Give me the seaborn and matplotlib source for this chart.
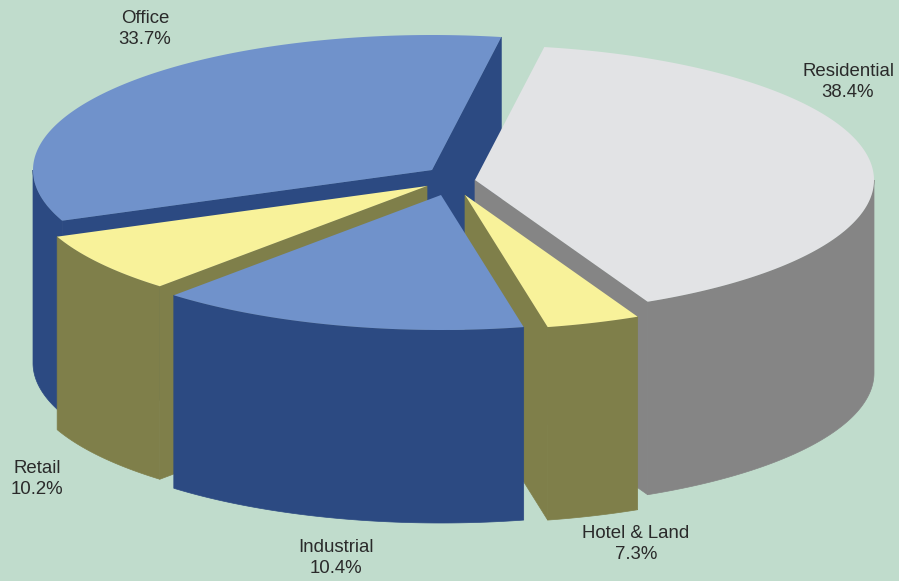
import numpy as np
import matplotlib
matplotlib.use("Agg")
import matplotlib.pyplot as plt
import seaborn as sns

# Data
categories = ["Residential", "Hotel & Land", "Industrial", "Retail", "Office"]
label_percent = [38.4, 7.3, 10.4, 10.2, 33.7]
# Share of the turn each slice visibly occupies in the drawing
shown_share = [40.1, 3.8, 15.0, 7.2, 33.9]

# Style / layout
top_colors = ["#E2E3E5", "#F8F29A", "#7092CB", "#F8F29A", "#7092CB"]
side_colors = ["#858585", "#7F7F4A", "#2C4A82", "#7F7F4A", "#2C4A82"]
apex_x = [475, 465, 441, 427, 432]
apex_y = [180, 195, 195, 186, 170]
label_x = [848, 636, 336, 37, 145]
label_y = [82, 544, 558, 479, 29]
draw_order = [4, 0, 1, 3, 2]
RX, RY, DEPTH = 399, 135, 193
START_ANGLE = 80
BACKGROUND = "#C0DCCC"

sns.set_theme(style="white")
plt.rcParams["font.family"] = ["Liberation Sans", "DejaVu Sans"]

fig = plt.figure(figsize=(8.99, 5.81), dpi=100, facecolor=BACKGROUND)
ax = fig.add_axes([0, 0, 1, 1])
ax.set_facecolor(BACKGROUND)
ax.set_xlim(0, 899)
ax.set_ylim(581, 0)
ax.axis("off")

ends = START_ANGLE - np.cumsum(shown_share) * 3.6
starts = np.r_[START_ANGLE, ends[:-1]]


def rim(cx, cy, a0, a1, dz=0):
    t = np.radians(np.linspace(a0, a1, 200))
    return cx + RX * np.cos(t), cy - RY * np.sin(t) + dz


for i in draw_order:
    cx, cy = apex_x[i], apex_y[i]
    a0, a1 = starts[i], ends[i]
    top, side = top_colors[i], side_colors[i]
    # cut faces that look towards the viewer
    visible = []
    if np.cos(np.radians(a0)) < 0:
        visible.append(a0)
    if np.cos(np.radians(a1)) > 0:
        visible.append(a1)
    for a in visible:
        ex, ey = rim(cx, cy, a, a)
        ax.fill([cx, ex[0], ex[0], cx], [cy, ey[0], ey[0] + DEPTH, cy + DEPTH],
                facecolor=side, edgecolor=side, lw=0.5)
    # outer wall: only the part that faces the viewer
    for k in range(-1, 1):
        seg0 = min(a0, 360 * k)
        seg1 = max(a1, 360 * k - 180)
        if seg0 > seg1:
            x0, y0 = rim(cx, cy, seg0, seg1)
            x1, y1 = rim(cx, cy, seg1, seg0, DEPTH)
            ax.fill(np.r_[x0, x1], np.r_[y0, y1],
                    facecolor=side, edgecolor=side, lw=0.5)
    # top face
    x, y = rim(cx, cy, a0, a1)
    ax.fill(np.r_[cx, x], np.r_[cy, y], color=top, lw=0)

for name, pct, lx, ly in zip(categories, label_percent, label_x, label_y):
    ax.text(lx, ly, f"{name}\n{pct}%", ha="center", va="center",
            fontsize=13.4, color="#2a2a2a", linespacing=1.32)

fig.savefig("out.png", dpi=100, facecolor=fig.get_facecolor())
